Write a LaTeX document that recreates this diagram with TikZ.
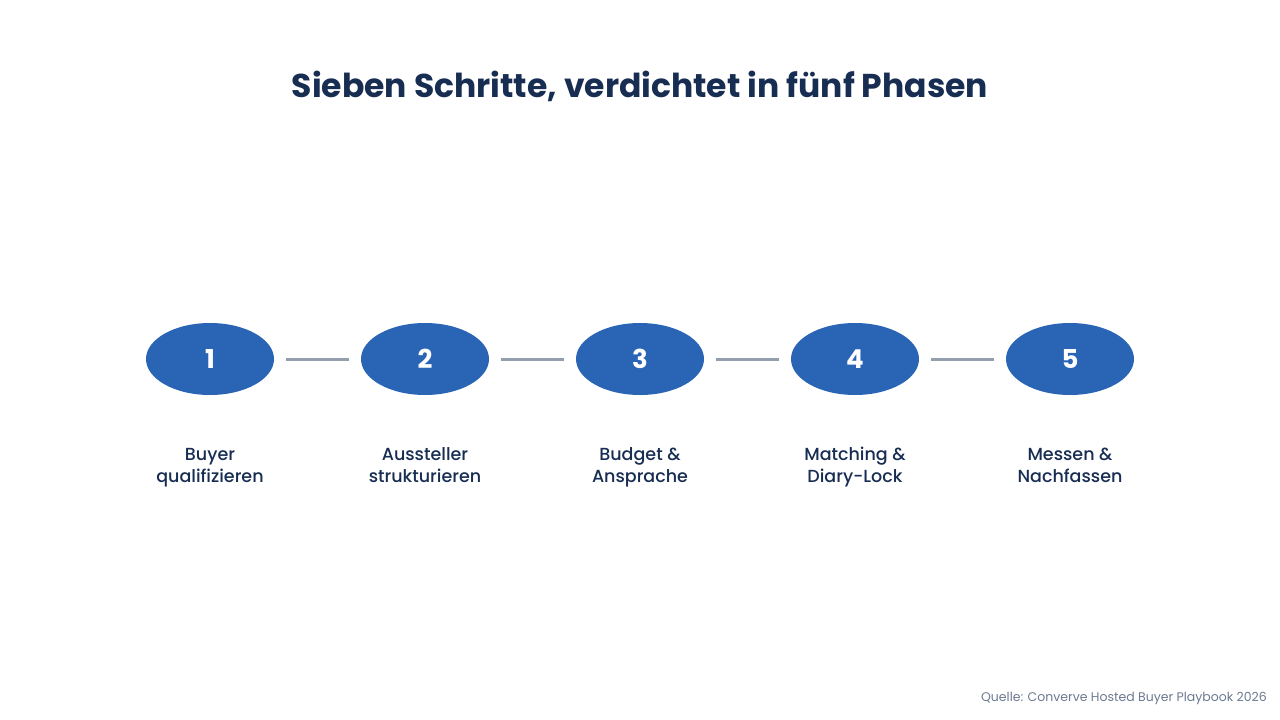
\documentclass[tikz,border=0pt]{standalone}
\usepackage{fontspec}
\setmainfont{Poppins}
\newfontfamily\medfont{Poppins Medium}
\usetikzlibrary{shapes.geometric}
\definecolor{navy}{HTML}{172D52}
\definecolor{phaseblue}{HTML}{2964B5}
\definecolor{linkgray}{HTML}{939FAE}
\definecolor{notegray}{HTML}{6B7A90}
\tikzset{
    phase/.style={ellipse, fill=phaseblue, minimum width=128pt, minimum height=72pt, inner sep=0pt,
        text=white, font=\fontsize{26}{26}\selectfont\bfseries},
    link/.style={color=linkgray, line width=3pt, shorten <=12pt, shorten >=12pt},
    caption/.style={anchor=base, inner sep=0pt, align=center, text=navy,
        font=\medfont\fontsize{17.5}{22}\selectfont}
}
\begin{document}
\begin{tikzpicture}[x=1pt,y=-1pt]
    \useasboundingbox (0,0) rectangle (1280,720);
    \node[text=navy, font=\fontsize{33}{33}\selectfont\bfseries] (title) at (640,86) {Sieben Schritte, verdichtet in fünf Phasen};
    \node[phase] (p1) at (210,359) {1};
    \node[phase] (p2) at (425,359) {2};
    \node[phase] (p3) at (640,359) {3};
    \node[phase] (p4) at (855,359) {4};
    \node[phase] (p5) at (1070,359) {5};
    \draw[link] (p1)--(p2);
    \draw[link] (p2)--(p3);
    \draw[link] (p3)--(p4);
    \draw[link] (p4)--(p5);
    \node[caption] (c1) at (210,482) {Buyer\\qualifizieren};
    \node[caption] (c2) at (425,482) {Aussteller\\strukturieren};
    \node[caption] (c3) at (640,482) {Budget \&\\Ansprache};
    \node[caption] (c4) at (855,482) {Matching \&\\Diary-Lock};
    \node[caption] (c5) at (1070,482) {Messen \&\\Nachfassen};
    \node[anchor=east, inner sep=0pt, text=notegray, font=\fontsize{12.5}{13}\selectfont] (source) at (1267,698) {Quelle: Converve Hosted Buyer Playbook 2026};
\end{tikzpicture}
\end{document}
